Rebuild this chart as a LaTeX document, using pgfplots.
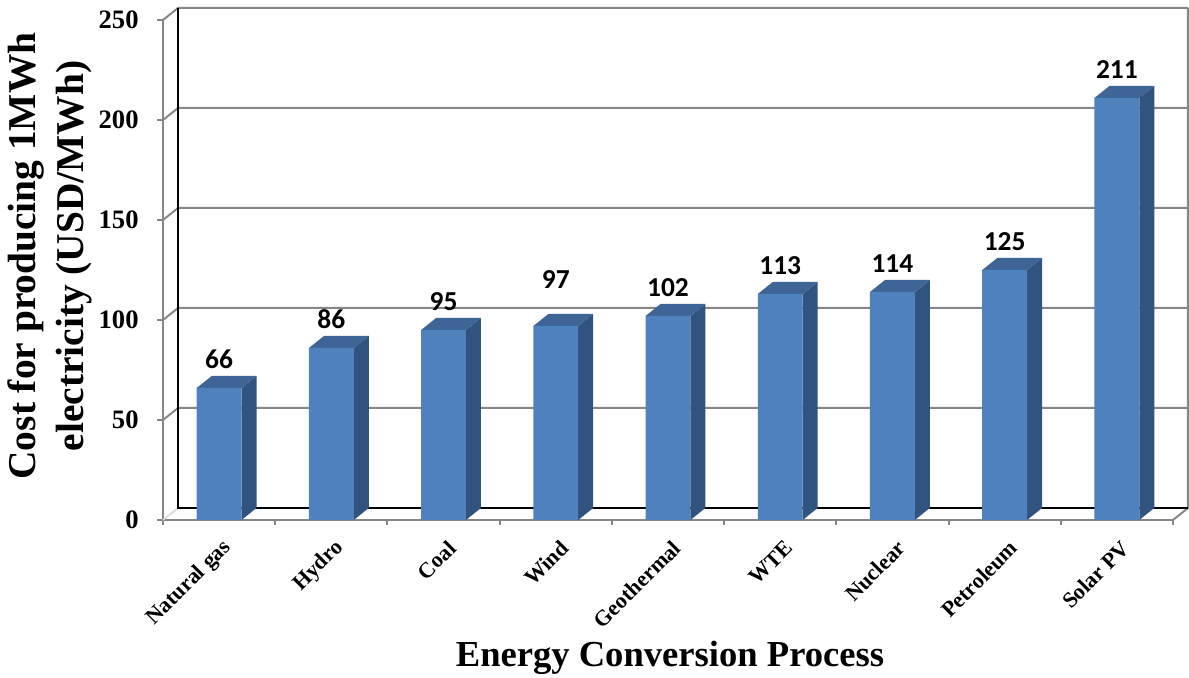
\documentclass[border=0pt]{standalone}
\usepackage{pgfplots}
\pgfplotsset{compat=1.18}
\usepackage{pgfplotstable}
\usepackage{fontspec}
\setmainfont{Liberation Serif}
\newfontfamily\labelfont{Carlito}

\definecolor{barfront}{RGB}{79,129,189}
\definecolor{barside}{RGB}{50,83,126}
\definecolor{bartop}{RGB}{62,101,150}
\definecolor{gridgray}{RGB}{134,134,134}
\definecolor{floorgray}{RGB}{215,215,215}

% cost per MWh; "lift" raises a value label above its usual place
\pgfplotstableread{
idx cost lift
0   66   0
1   86   0
2   95   0
3   97   9
4   102  0
5   113  0
6   114  0
7   125  0
8   211  0
}\costdata

% depth of the pseudo-3D box, in axis units
\newcommand\dx{0.1337}
\newcommand\dy{6}

\begin{document}
\begin{tikzpicture}
\begin{axis}[
  at={(0,0)}, anchor=south west,
  scale only axis, width=505pt, height=250pt,
  xmin=0, xmax=9, ymin=0, ymax=250,
  clip=false,
  axis x line*=bottom, axis y line*=left,
  axis line style={gridgray, line width=1pt},
  xtick={0.5,1.5,...,8.5},
  xticklabels={Natural gas, Hydro, Coal, Wind, Geothermal, WTE, Nuclear, Petroleum, Solar PV},
  minor xtick={0,...,9},
  ytick={0,50,...,250},
  tick align=outside,
  major tick length=3pt, minor tick length=2.5pt,
  tick style={gridgray, line width=1pt},
  major x tick style={draw=none},
  /pgf/number format/assume math mode=true,
  yticklabel style={font=\bfseries\fontsize{13.3}{16}\selectfont, inner sep=0pt, xshift=-9pt},
  xticklabel style={font=\bfseries\fontsize{11}{12}\selectfont, rotate=45, anchor=east, inner sep=0pt, xshift=-3.2pt, yshift=-9.75pt},
  ylabel={Cost for producing 1MWh\\electricity (USD/MWh)},
  ylabel style={align=center, font=\bfseries\fontsize{19.7}{24}\selectfont,
    at={(axis description cs:-0.112,0.528)}, anchor=center},
  xlabel={Energy Conversion Process},
  xlabel style={font=\bfseries\fontsize{18.3}{22}\selectfont,
    at={(axis description cs:0.502,-0.294)}, anchor=base},
]

% side-wall diagonals and back-wall gridlines
\pgfplotsinvokeforeach{50,100,150,200,250}{
  \pgfmathsetmacro\yb{#1+\dy}
  \pgfmathsetmacro\xe{9+\dx}
  \edef\temp{\noexpand\addplot[gridgray, line width=1pt] coordinates {(0,#1) (\dx,\yb) (\xe,\yb)};}
  \temp
}
% floor edges and right edge of the back wall
\addplot[floorgray, line width=0.8pt] coordinates {(0,0) (0.1337,6)};
\addplot[gridgray, line width=1pt] coordinates {(9,0) (9.1337,6) (9.1337,256)};
% back wall frame
\addplot[black, line width=1pt] coordinates {(0.1337,256) (0.1337,6) (9.1337,6)};

% side and top faces of the columns
\pgfplotsinvokeforeach{0,...,8}{
  \pgfplotstablegetelem{#1}{cost}\of\costdata
  \pgfmathsetmacro\vt{\pgfplotsretval}
  \pgfmathsetmacro\vb{\pgfplotsretval+\dy}
  \pgfmathsetmacro\xl{#1+0.3}
  \pgfmathsetmacro\xr{#1+0.7}
  \pgfmathsetmacro\xlb{#1+0.3+\dx}
  \pgfmathsetmacro\xrb{#1+0.7+\dx}
  \edef\temp{%
    \noexpand\addplot[fill=barside, draw=none] coordinates {(\xr,0) (\xr,\vt) (\xrb,\vb) (\xrb,\dy)} -- cycle;
    \noexpand\addplot[fill=bartop, draw=none] coordinates {(\xl,\vt) (\xr,\vt) (\xrb,\vb) (\xlb,\vb)} -- cycle;
  }
  \temp
}
% front faces
\addplot[ybar, bar width=0.4, fill=barfront, draw=none]
  table[x expr=\thisrow{idx}+0.5, y=cost]{\costdata};

% value labels
\addplot[draw=none, nodes near coords, point meta=explicit symbolic,
  nodes near coords style={font=\labelfont\bfseries\fontsize{13.7}{16}\selectfont,
    anchor=south, inner sep=0pt, yshift=9.5pt}]
  table[x expr=\thisrow{idx}+0.5, y expr=\thisrow{cost}+\thisrow{lift}, meta=cost]{\costdata};
\end{axis}
\pgfresetboundingbox
\path[use as bounding box] (-81.5pt,-79pt) rectangle (513pt,260pt);
\end{tikzpicture}
\end{document}
